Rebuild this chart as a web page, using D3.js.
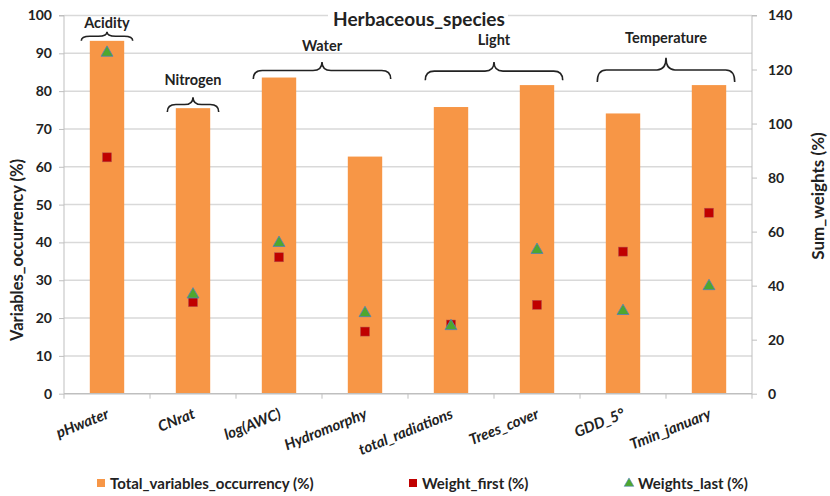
<!DOCTYPE html>
<html><head><meta charset="utf-8">
<script src="https://cdn.jsdelivr.net/npm/d3@7/dist/d3.min.js"></script>
<style>body{margin:0;background:#fff;} text{font-family:Lato,"Open Sans",sans-serif;font-weight:bold;fill:#222;}</style>
</head><body><svg id="c" width="830" height="496"></svg>
<script>
const categories = ["pHwater","CNrat","log(AWC)","Hydromorphy","total_radiations","Trees_cover","GDD_5°","Tmin_january"];
const occurrency = [93.3, 75.5, 83.6, 62.7, 75.8, 81.6, 74.1, 81.6];
const weightFirst = [87.5, 33.9, 50.5, 23.0, 25.6, 32.9, 52.6, 67.0];
const weightsLast = [126.2, 36.7, 55.8, 29.8, 25.0, 53.2, 30.6, 39.8];
const leftTicks = [0,10,20,30,40,50,60,70,80,90,100];
const rightTicks = [0,20,40,60,80,100,120,140];
const groupNames = ["Acidity","Nitrogen","Water","Light","Temperature"];
const groupFrom = [0,1,2,4,6];
const groupTo = [0,1,3,5,7];
// annotation levels, in left-axis units
const braceEnd = [93.3, 74.5, 83.2, 82.9, 82.4];
const braceTip = [95.7, 78.4, 87.7, 87.7, 88.8];
const labelLevel = [96.8, 81.6, 90.5, 92.2, 92.6];
const legendLabels = ["Total_variables_occurrency (%)","Weight_first (%)","Weights_last (%)"];

const svg = d3.select("#c");
const L = 64, R = 752, T = 15.5, B = 393.7;
const x = d3.scaleBand().domain(categories).range([L,R]).paddingInner(0.6).paddingOuter(0.3);
const y = d3.scaleLinear().domain([0,100]).range([B,T]);
const y2 = d3.scaleLinear().domain([0,140]).range([B,T]);
const FS = "14px";

// grid
svg.append("g").selectAll("line").data(leftTicks.slice(1)).join("line")
  .attr("x1",L).attr("x2",R).attr("y1",d=>y(d)).attr("y2",d=>y(d))
  .attr("stroke","#d9d9d9").attr("stroke-width",1.5);

// left axis
const ga = svg.append("g").attr("transform",`translate(${L},0)`)
  .call(d3.axisLeft(y).tickValues(leftTicks).tickSize(5).tickPadding(7));
ga.select(".domain").attr("stroke","#bfbfbf").attr("d",`M-5,${T}H0V${B}`);
ga.selectAll(".tick line").attr("stroke","#bfbfbf");
ga.selectAll("text").style("font-size",FS).attr("fill","#222").style("font-family","Lato").style("font-weight","bold");

// right axis
const gb = svg.append("g").attr("transform",`translate(${R},0)`)
  .call(d3.axisRight(y2).tickValues(rightTicks).tickSize(5).tickPadding(11));
gb.select(".domain").attr("stroke","#bfbfbf").attr("d",`M5,${T}H0V${B}`);
gb.selectAll(".tick line").attr("stroke","#bfbfbf");
gb.selectAll("text").style("font-size",FS).attr("fill","#222").style("font-family","Lato").style("font-weight","bold");

// bars
svg.append("g").selectAll("rect").data(categories).join("rect")
  .attr("x",d=>x(d)).attr("width",x.bandwidth())
  .attr("y",(d,i)=>y(occurrency[i])).attr("height",(d,i)=>B-y(occurrency[i]))
  .attr("fill","#f79646");

// bottom axis
const step = x.step();
const gx = svg.append("g").attr("transform",`translate(0,${B})`);
gx.append("line").attr("x1",L).attr("x2",R).attr("stroke","#bfbfbf").attr("stroke-width",1.5);
gx.selectAll("line.t").data(d3.range(categories.length+1)).join("line").attr("class","t")
  .attr("x1",i=>L+i*step).attr("x2",i=>L+i*step).attr("y1",0).attr("y2",5).attr("stroke","#bfbfbf");
const ang = -22*Math.PI/180, ca = Math.cos(ang), sa = Math.sin(ang);
gx.selectAll("text.lab").data(categories).join("text").attr("class","lab")
  .attr("transform",d=>`matrix(${ca},${sa},${-sa},${ca},${x(d)+x.bandwidth()/2+3},24)`)
  .attr("text-anchor","end").style("font-size","15px").style("font-style","italic").text(d=>d);

// markers
const cx = d=>x(d)+x.bandwidth()/2;
svg.append("g").selectAll("rect").data(categories).join("rect")
  .attr("x",d=>cx(d)-4.5).attr("y",(d,i)=>y2(weightFirst[i])-4.5).attr("width",9).attr("height",9)
  .attr("fill","#c00000").attr("stroke","#b05050").attr("stroke-width",0.5);
const tri = d3.symbol().type(d3.symbolTriangle).size(62);
svg.append("g").selectAll("path").data(categories).join("path")
  .attr("d",tri).attr("transform",(d,i)=>`translate(${cx(d)},${y2(weightsLast[i])})`)
  .attr("fill","#4ea72e").attr("stroke","#4f81bd").attr("stroke-width",0.8);

// title
svg.append("rect").attr("x",328).attr("y",6).attr("width",180).attr("height",22).attr("fill","#fff");
svg.append("text").attr("x",419).attr("y",26).attr("text-anchor","middle").style("font-size","19px").text("Herbaceous_species");

// braces
svg.append("g").selectAll("g").data(groupNames).join("g").each(function(name,i){
  const pad = 8.5;
  const x0 = x(categories[groupFrom[i]]) - pad, x1 = x(categories[groupTo[i]]) + x.bandwidth() + pad;
  const ye = y(braceEnd[i]), yt = y(braceTip[i]);
  const ym = (ye+yt)/2, xm = (x0+x1)/2;
  const r = Math.min(9,(x1-x0)/6);
  const p = `M${x0},${ye} Q${x0},${ym} ${x0+r},${ym} L${xm-r},${ym} Q${xm},${ym} ${xm},${yt}` +
            ` Q${xm},${ym} ${xm+r},${ym} L${x1-r},${ym} Q${x1},${ym} ${x1},${ye}`;
  d3.select(this).append("path").attr("d",p).attr("fill","none").attr("stroke","#222").attr("stroke-width",1.6);
  d3.select(this).append("text").attr("x",xm).attr("y",y(labelLevel[i])).attr("text-anchor","middle").style("font-size","14.5px").text(name);
});

// axis titles
svg.append("text").attr("transform","translate(23,250) rotate(-90)").attr("text-anchor","middle").style("font-size","16.5px").text("Variables_occurrency (%)");
svg.append("text").attr("transform","translate(824,196) rotate(-90)").attr("text-anchor","middle").style("font-size","17px").text("Sum_weights (%)");

// legend
const lg = svg.append("g");
const lx = [97, 409, 625];
lg.append("rect").attr("x",lx[0]).attr("y",479).attr("width",8).attr("height",8).attr("fill","#f79646");
lg.append("rect").attr("x",lx[1]).attr("y",479).attr("width",8).attr("height",8).attr("fill","#c00000");
lg.append("path").attr("d",d3.symbol().type(d3.symbolTriangle).size(40)).attr("transform",`translate(${lx[2]+4},483.5)`).attr("fill","#4ea72e").attr("stroke","#4f81bd").attr("stroke-width",0.6);
lg.selectAll("text").data(legendLabels).join("text").attr("x",(d,i)=>lx[i]+13).attr("y",489).style("font-size","15px").text(d=>d);
</script></body></html>
